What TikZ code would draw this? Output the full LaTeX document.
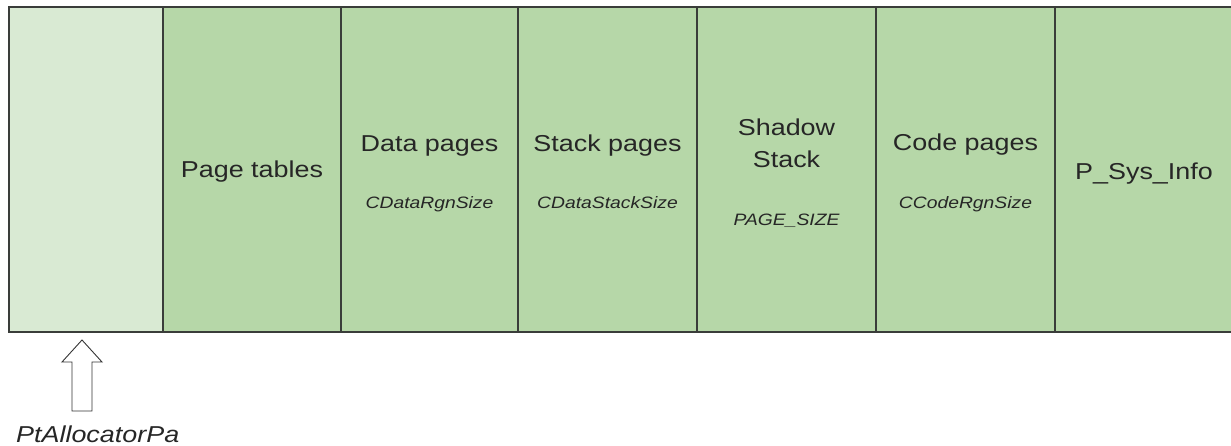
\documentclass[tikz,border=0pt]{standalone}
\usepackage{fontspec}
\setmainfont{Liberation Sans}[FakeStretch=1.17]
\usepackage{tikz}

\definecolor{freegreen}{HTML}{D9EAD3}
\definecolor{pagegreen}{HTML}{B6D7A8}
\definecolor{edgegray}{HTML}{3A3D3A}

\begin{document}
\begin{tikzpicture}[x=1pt,y=-1pt]
\tikzstyle{region}=[rectangle, draw=edgegray, line width=1.5pt, fill=pagegreen, outer sep=0pt, inner sep=0pt, minimum height=325pt]
\tikzstyle{title}=[anchor=base, inner sep=0pt, text=black!85, font=\fontsize{23}{28}\selectfont]
\tikzstyle{size}=[anchor=base, inner sep=0pt, text=black!85, font=\fontsize{16.5}{20}\selectfont\itshape]

\useasboundingbox (0,0) rectangle (1231,446);

    \node[region, fill=freegreen, minimum width=154pt] (free) at (86,169.5) {};
    \node[region, minimum width=178pt] (pt) at (252,169.5) {};
    \node[region, minimum width=177pt] (data) at (429.5,169.5) {};
    \node[region, minimum width=179pt] (stack) at (607.5,169.5) {};
    \node[region, minimum width=179pt] (shadow) at (786.5,169.5) {};
    \node[region, minimum width=179pt] (code) at (965.5,169.5) {};
    \node[region, minimum width=179pt] (sysinfo) at (1144.5,169.5) {};

\node [title] (ptT) at (252,178) {Page tables};

\node [title] (dataT) at (429.5,151.5) {Data pages};
\node [size] (dataS) at (429.5,209) {CDataRgnSize};

\node [title] (stackT) at (607.5,151.5) {Stack pages};
\node [size] (stackS) at (607.5,209) {CDataStackSize};

\node [title] (shadowT) at (786.5,135.5) {Shadow};
\node [title] (shadowT2) at (786.5,167.5) {Stack};
\node [size] (shadowS) at (786.5,226) {PAGE\_SIZE};

\node [title] (codeT) at (965.5,150.5) {Code pages};
\node [size] (codeS) at (965.5,209) {CCodeRgnSize};

\node [title] (sysT) at (1144,180) {P\_Sys\_Info};

% allocator pointer
\coordinate (tip) at (82,340);
\draw[draw=black!80, line width=0.9pt, fill=white, line join=miter]
  (tip) -- ++(20,22) -- ++(-10,0) -- ++(0,49) -- ++(-20,0) -- ++(0,-49) -- ++(-10,0) -- cycle;
\node [title, anchor=base west, font=\fontsize{23}{28}\selectfont\itshape] (alloc) at (16,442) {PtAllocatorPa};
\end{tikzpicture}
\end{document}
